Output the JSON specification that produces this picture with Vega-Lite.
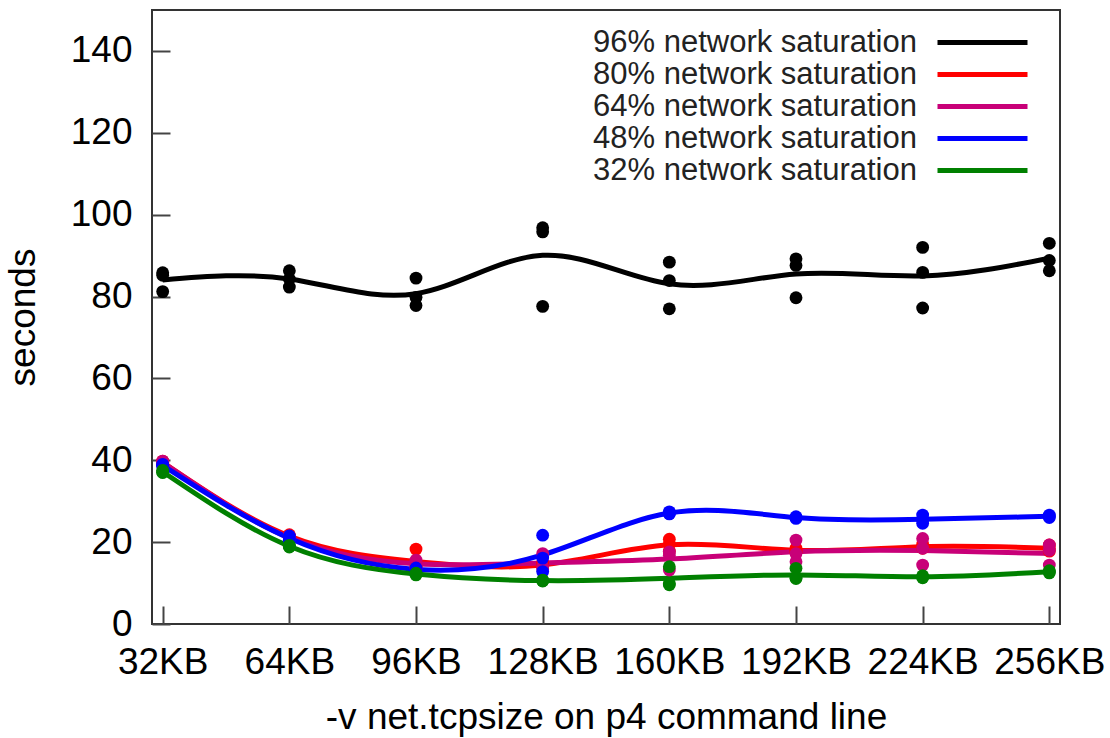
{
  "$schema": "https://vega.github.io/schema/vega-lite/v6.json",
  "width": 908,
  "height": 614,
  "autosize": {"type": "none"},
  "padding": {"left": 152, "top": 10, "right": 50, "bottom": 114},
  "background": "white",
  "config": {
    "view": {"stroke": "#333333", "strokeWidth": 2},
    "axis": {
      "domain": false, "grid": false,
      "tickColor": "#444444", "tickWidth": 2, "tickSize": -18,
      "labelFont": "Liberation Sans", "labelFontSize": 37, "labelColor": "#000000", "labelPadding": 38,
      "titleFont": "Liberation Sans", "titleFontSize": 37, "titleFontWeight": "normal", "titleColor": "#000000"
    },
    "legend": {
      "orient": "none", "legendX": 815, "legendY": 17,
      "title": null, "padding": 0,
      "labelFont": "Liberation Sans", "labelFontSize": 31, "labelColor": "#222222",
      "labelAlign": "right", "labelOffset": -81, "labelLimit": 600,
      "symbolType": "M-9,0H9", "symbolSize": 100, "symbolStrokeWidth": 5
    }
  },
  "data": {"values": [
    {"kb": 32, "series": "96% network saturation", "sec": 85.8},
    {"kb": 32, "series": "96% network saturation", "sec": 85.2},
    {"kb": 32, "series": "96% network saturation", "sec": 81.2},
    {"kb": 64, "series": "96% network saturation", "sec": 86.3},
    {"kb": 64, "series": "96% network saturation", "sec": 84.3},
    {"kb": 64, "series": "96% network saturation", "sec": 82.3},
    {"kb": 96, "series": "96% network saturation", "sec": 84.5},
    {"kb": 96, "series": "96% network saturation", "sec": 79.8},
    {"kb": 96, "series": "96% network saturation", "sec": 77.8},
    {"kb": 128, "series": "96% network saturation", "sec": 96.8},
    {"kb": 128, "series": "96% network saturation", "sec": 95.8},
    {"kb": 128, "series": "96% network saturation", "sec": 77.6},
    {"kb": 160, "series": "96% network saturation", "sec": 88.4},
    {"kb": 160, "series": "96% network saturation", "sec": 83.9},
    {"kb": 160, "series": "96% network saturation", "sec": 77.0},
    {"kb": 192, "series": "96% network saturation", "sec": 89.2},
    {"kb": 192, "series": "96% network saturation", "sec": 87.6},
    {"kb": 192, "series": "96% network saturation", "sec": 79.7},
    {"kb": 224, "series": "96% network saturation", "sec": 92.0},
    {"kb": 224, "series": "96% network saturation", "sec": 85.9},
    {"kb": 224, "series": "96% network saturation", "sec": 77.2},
    {"kb": 256, "series": "96% network saturation", "sec": 93.0},
    {"kb": 256, "series": "96% network saturation", "sec": 88.8},
    {"kb": 256, "series": "96% network saturation", "sec": 86.3},

    {"kb": 32, "series": "80% network saturation", "sec": 39.8},
    {"kb": 32, "series": "80% network saturation", "sec": 39.5},
    {"kb": 32, "series": "80% network saturation", "sec": 39.2},
    {"kb": 64, "series": "80% network saturation", "sec": 21.8},
    {"kb": 64, "series": "80% network saturation", "sec": 21.5},
    {"kb": 64, "series": "80% network saturation", "sec": 21.2},
    {"kb": 96, "series": "80% network saturation", "sec": 18.3},
    {"kb": 96, "series": "80% network saturation", "sec": 14.0},
    {"kb": 96, "series": "80% network saturation", "sec": 13.5},
    {"kb": 128, "series": "80% network saturation", "sec": 15.0},
    {"kb": 128, "series": "80% network saturation", "sec": 14.3},
    {"kb": 128, "series": "80% network saturation", "sec": 14.0},
    {"kb": 160, "series": "80% network saturation", "sec": 20.7},
    {"kb": 160, "series": "80% network saturation", "sec": 19.5},
    {"kb": 160, "series": "80% network saturation", "sec": 17.8},
    {"kb": 192, "series": "80% network saturation", "sec": 18.5},
    {"kb": 192, "series": "80% network saturation", "sec": 18.0},
    {"kb": 192, "series": "80% network saturation", "sec": 17.5},
    {"kb": 224, "series": "80% network saturation", "sec": 19.5},
    {"kb": 224, "series": "80% network saturation", "sec": 18.7},
    {"kb": 224, "series": "80% network saturation", "sec": 18.5},
    {"kb": 256, "series": "80% network saturation", "sec": 19.3},
    {"kb": 256, "series": "80% network saturation", "sec": 18.5},
    {"kb": 256, "series": "80% network saturation", "sec": 17.8},

    {"kb": 32, "series": "64% network saturation", "sec": 39.8},
    {"kb": 32, "series": "64% network saturation", "sec": 39.5},
    {"kb": 32, "series": "64% network saturation", "sec": 39.0},
    {"kb": 64, "series": "64% network saturation", "sec": 21.5},
    {"kb": 64, "series": "64% network saturation", "sec": 21.0},
    {"kb": 64, "series": "64% network saturation", "sec": 20.8},
    {"kb": 96, "series": "64% network saturation", "sec": 15.6},
    {"kb": 96, "series": "64% network saturation", "sec": 14.5},
    {"kb": 96, "series": "64% network saturation", "sec": 14.0},
    {"kb": 128, "series": "64% network saturation", "sec": 17.2},
    {"kb": 128, "series": "64% network saturation", "sec": 14.0},
    {"kb": 128, "series": "64% network saturation", "sec": 13.5},
    {"kb": 160, "series": "64% network saturation", "sec": 17.6},
    {"kb": 160, "series": "64% network saturation", "sec": 16.8},
    {"kb": 160, "series": "64% network saturation", "sec": 13.2},
    {"kb": 192, "series": "64% network saturation", "sec": 20.5},
    {"kb": 192, "series": "64% network saturation", "sec": 17.2},
    {"kb": 192, "series": "64% network saturation", "sec": 15.2},
    {"kb": 224, "series": "64% network saturation", "sec": 20.9},
    {"kb": 224, "series": "64% network saturation", "sec": 18.5},
    {"kb": 224, "series": "64% network saturation", "sec": 14.4},
    {"kb": 256, "series": "64% network saturation", "sec": 19.3},
    {"kb": 256, "series": "64% network saturation", "sec": 18.0},
    {"kb": 256, "series": "64% network saturation", "sec": 14.4},

    {"kb": 32, "series": "48% network saturation", "sec": 39.0},
    {"kb": 32, "series": "48% network saturation", "sec": 38.8},
    {"kb": 32, "series": "48% network saturation", "sec": 38.5},
    {"kb": 64, "series": "48% network saturation", "sec": 21.5},
    {"kb": 64, "series": "48% network saturation", "sec": 20.8},
    {"kb": 64, "series": "48% network saturation", "sec": 20.5},
    {"kb": 96, "series": "48% network saturation", "sec": 13.7},
    {"kb": 96, "series": "48% network saturation", "sec": 13.3},
    {"kb": 96, "series": "48% network saturation", "sec": 13.0},
    {"kb": 128, "series": "48% network saturation", "sec": 21.7},
    {"kb": 128, "series": "48% network saturation", "sec": 16.1},
    {"kb": 128, "series": "48% network saturation", "sec": 12.8},
    {"kb": 160, "series": "48% network saturation", "sec": 27.4},
    {"kb": 160, "series": "48% network saturation", "sec": 27.0},
    {"kb": 160, "series": "48% network saturation", "sec": 26.9},
    {"kb": 192, "series": "48% network saturation", "sec": 26.2},
    {"kb": 192, "series": "48% network saturation", "sec": 26.0},
    {"kb": 192, "series": "48% network saturation", "sec": 25.8},
    {"kb": 224, "series": "48% network saturation", "sec": 26.6},
    {"kb": 224, "series": "48% network saturation", "sec": 25.5},
    {"kb": 224, "series": "48% network saturation", "sec": 24.6},
    {"kb": 256, "series": "48% network saturation", "sec": 26.6},
    {"kb": 256, "series": "48% network saturation", "sec": 26.3},
    {"kb": 256, "series": "48% network saturation", "sec": 26.0},

    {"kb": 32, "series": "32% network saturation", "sec": 37.5},
    {"kb": 32, "series": "32% network saturation", "sec": 37.1},
    {"kb": 32, "series": "32% network saturation", "sec": 37.0},
    {"kb": 64, "series": "32% network saturation", "sec": 19.2},
    {"kb": 64, "series": "32% network saturation", "sec": 19.0},
    {"kb": 64, "series": "32% network saturation", "sec": 18.8},
    {"kb": 96, "series": "32% network saturation", "sec": 12.4},
    {"kb": 96, "series": "32% network saturation", "sec": 12.2},
    {"kb": 96, "series": "32% network saturation", "sec": 12.0},
    {"kb": 128, "series": "32% network saturation", "sec": 10.7},
    {"kb": 128, "series": "32% network saturation", "sec": 10.6},
    {"kb": 128, "series": "32% network saturation", "sec": 10.5},
    {"kb": 160, "series": "32% network saturation", "sec": 14.0},
    {"kb": 160, "series": "32% network saturation", "sec": 9.9},
    {"kb": 160, "series": "32% network saturation", "sec": 9.6},
    {"kb": 192, "series": "32% network saturation", "sec": 13.6},
    {"kb": 192, "series": "32% network saturation", "sec": 11.3},
    {"kb": 192, "series": "32% network saturation", "sec": 11.1},
    {"kb": 224, "series": "32% network saturation", "sec": 11.8},
    {"kb": 224, "series": "32% network saturation", "sec": 11.5},
    {"kb": 224, "series": "32% network saturation", "sec": 11.3},
    {"kb": 256, "series": "32% network saturation", "sec": 13.0},
    {"kb": 256, "series": "32% network saturation", "sec": 12.8},
    {"kb": 256, "series": "32% network saturation", "sec": 12.5}
  ]},
  "encoding": {
    "x": {
      "field": "kb", "type": "quantitative",
      "scale": {"domain": [29.3, 258.7], "nice": false, "zero": false},
      "axis": {
        "values": [32, 64, 96, 128, 160, 192, 224, 256],
        "labelExpr": "datum.value + 'KB'",
        "labelFlush": false, "labelOverlap": false,
        "title": "-v net.tcpsize on p4 command line", "titlePadding": 19
      }
    },
    "color": {
      "field": "series", "type": "nominal",
      "scale": {
        "domain": ["96% network saturation", "80% network saturation", "64% network saturation", "48% network saturation", "32% network saturation"],
        "range": ["#000000", "#ff0000", "#c80078", "#0000ff", "#008000"]
      },
      "legend": {"rowPadding": 0}
    }
  },
  "layer": [
    {
      "mark": {"type": "line", "interpolate": "natural", "strokeWidth": 5},
      "encoding": {
        "y": {
          "aggregate": "mean", "field": "sec", "type": "quantitative",
          "scale": {"domain": [0, 150], "nice": false},
          "axis": {"values": [0, 20, 40, 60, 80, 100, 120, 140], "title": "seconds", "titlePadding": 28, "labelFlush": false}
        }
      }
    },
    {
      "mark": {"type": "circle", "size": 165, "opacity": 1},
      "encoding": {
        "y": {
          "field": "sec", "type": "quantitative",
          "scale": {"domain": [0, 150], "nice": false},
          "axis": {"values": [0, 20, 40, 60, 80, 100, 120, 140], "title": "seconds", "titlePadding": 28, "labelFlush": false}
        }
      }
    }
  ]
}
